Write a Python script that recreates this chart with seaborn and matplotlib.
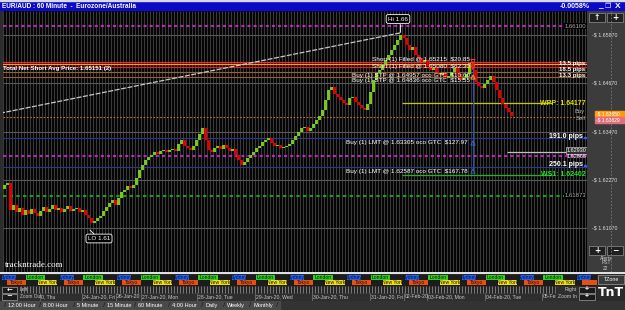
import matplotlib
matplotlib.use("Agg")
import matplotlib.pyplot as plt
import numpy as np
import pandas as pd
import seaborn as sns
from matplotlib.patches import Rectangle

# ---------------- data ----------------
closes = [
    1.6214, 1.6219, 1.6152, 1.6164, 1.6147, 1.6157, 1.6139, 1.6152, 1.6142, 1.6154,
    1.6144, 1.6137, 1.6149, 1.6159, 1.6147, 1.6154, 1.6164, 1.6152, 1.6157, 1.6147,
    1.6154, 1.6162, 1.6149, 1.6154, 1.6157, 1.6147, 1.6152, 1.6139, 1.6132, 1.6120,
    1.6124, 1.6132, 1.6137, 1.6149, 1.6159, 1.6169, 1.6177, 1.6164, 1.6182, 1.6197,
    1.6202, 1.6212, 1.6207, 1.6214, 1.6232, 1.6251, 1.6264, 1.6276, 1.6284, 1.6289,
    1.6296, 1.6291, 1.6299, 1.6301, 1.6296, 1.6301, 1.6304, 1.6299, 1.6316, 1.6326,
    1.6311, 1.6306, 1.6301, 1.6311, 1.6326, 1.6341, 1.6356, 1.6326, 1.6301, 1.6296,
    1.6306, 1.6311, 1.6304, 1.6314, 1.6306, 1.6299, 1.6304, 1.6289, 1.6276, 1.6264,
    1.6271, 1.6281, 1.6289, 1.6296, 1.6306, 1.6311, 1.6321, 1.6326, 1.6331, 1.6319,
    1.6311, 1.6314, 1.6306, 1.6309, 1.6311, 1.6316, 1.6326, 1.6336, 1.6346, 1.6356,
    1.6359, 1.6349, 1.6356, 1.6366, 1.6376, 1.6386, 1.6401, 1.6426, 1.6451, 1.6458,
    1.6441, 1.6433, 1.6426, 1.6418, 1.6413, 1.6431, 1.6433, 1.6421, 1.6413, 1.6406,
    1.6401, 1.6416, 1.6446, 1.6476, 1.6493, 1.6500, 1.6515, 1.6525, 1.6538, 1.6550,
    1.6563, 1.6575, 1.6588, 1.6580, 1.6563, 1.6550, 1.6558, 1.6538, 1.6530, 1.6520,
    1.6525, 1.6510, 1.6500, 1.6505, 1.6496, 1.6488, 1.6493, 1.6481, 1.6486, 1.6496,
    1.6505, 1.6491, 1.6476, 1.6481, 1.6491, 1.6518, 1.6500, 1.6471, 1.6461, 1.6456,
    1.6466, 1.6476, 1.6486, 1.6471, 1.6451, 1.6431, 1.6416, 1.6406, 1.6396, 1.6386,
]
first_open = 1.6205

price_ticks = [1.65870, 1.64670, 1.63470, 1.62270, 1.61070]

trend_idx = [-1.5, 132.0]
trend_price = [1.6393, 1.6593]

magenta_levels = [1.66100, 1.62866]
green_level = 1.61873
short_fill_prices = [1.65215, 1.65080]
short_fill_amounts = ["$20.85", "$62.30"]
net_short_avg = 1.65151
stp_prices = [1.64957, 1.64836]
stp_amounts = ["$10.60", "$15.55"]
lmt_prices = [1.63305, 1.62587]
lmt_amounts = ["$127.97", "$167.78"]
lmt_pips = ["191.0 pips", "250.1 pips"]
stacked_pips = ["13.5 pips", "18.5 pips", "13.3 pips"]
wpp_level = 1.64177
ws1_level = 1.62402
bid_price = 1.63829
ask_price = 1.63850
white_level = 1.62966
pct_change = "-0.0058%"

date_labels = ["0, Thu", "24-Jan-20, Fri", "26-Jan-20", "27-Jan-20, Mon",
               "28-Jan-20, Tue", "29-Jan-20, Wed", "30-Jan-20, Thu", "31-Jan-20, Fri",
               "02-Feb-20", "03-Feb-20, Mon", "04-Feb-20, Tue", "05-Feb"]
session_names = ["Sydney", "Tokyo", "London", "New York"]
session_start_h = [0, 2, 10, 15]
session_len_h = [6, 8, 8, 8]
session_row = [0, 1, 0, 1]
session_colors = ["#2060ff", "#e85010", "#30d020", "#f0e010"]
n_days = 11
tabs = ["12:00 Hour", "8:00 Hour", "5 Minute", "15 Minute", "60 Minute",
        "4:00 Hour", "Daily", "Weekly", "Monthly"]

# ---------------- style ----------------
sns.set_theme(style="dark")
plt.rcParams["font.family"] = ["Liberation Sans", "DejaVu Sans"]
plt.rcParams["axes.edgecolor"] = "none"

W, H = 625, 310
fig = plt.figure(figsize=(6.25, 3.10), dpi=100)
fig.patch.set_facecolor("#2c2c2c")


def px_axes(x0, y0, x1, y1, fc):
    a = fig.add_axes([x0 / W, 1 - y1 / H, (x1 - x0) / W, (y1 - y0) / H])
    a.set_facecolor(fc)
    a.set_xticks([]); a.set_yticks([])
    for s in a.spines.values():
        s.set_visible(False)
    return a


YTOP = 1.661 + 15 / 4020
YBOT = 1.661 - 246 / 4020


def ix(px):  # pixel column -> candle index units (text placement only)
    return (px - 4.5) / 3


def py(ypx):  # pixel row -> price units (text placement only)
    return 1.661 - (ypx - 26) / 4020


# ---------------- title bar ----------------
at = px_axes(0, 0, 625, 11, "#0a0ac8")
at.set_xlim(0, 625); at.set_ylim(11, 0)
at.add_patch(Rectangle((0, 0), 625, 1, color="#d8d8e8"))
at.text(2, 6, "EUR/AUD : 60 Minute  -  Eurozone/Australia", color="white",
        fontsize=4.7, fontweight="bold", va="center")
at.text(590, 6, pct_change, color="white", fontsize=5.0, fontweight="bold",
        va="center", ha="right")
at.text(598, 6.5, "_", color="white", fontsize=6, fontweight="bold", va="center")
at.text(605, 6, "\u2750", color="white", fontsize=5, va="center",
        family=["DejaVu Sans"])
at.text(615, 6, "X", color="white", fontsize=6, fontweight="bold", va="center")

# ---------------- main chart ----------------
ax = px_axes(3, 11, 587, 272, "black")
ax.set_xlim(-0.5, 194.17)
ax.set_ylim(YBOT, YTOP)

# dense vertical grid
ax.vlines(np.arange(-1, 195) + 0.5, YBOT, YTOP, colors="#3a3a3a", lw=0.85, zorder=0)
# horizontal grid at price ticks
ax.hlines(price_ticks, -0.5, 194.17, colors="#585858", lw=0.8, zorder=0.5)

# reference / order levels
for lv in magenta_levels:
    ax.axhline(lv, color="#ff20ff", lw=1.1, ls=(0, (2, 2)), zorder=1)
ax.axhline(green_level, color="#10c010", lw=1.2, ls=(0, (2, 2)), zorder=1)
ax.axhline(short_fill_prices[0], color="#ff2020", lw=0.9, zorder=1)
ax.axhline(net_short_avg, color="#ff9a20", lw=0.9, zorder=1)
ax.axhline(short_fill_prices[1], color="#e02020", lw=0.9, zorder=1)
for lv in stp_prices:
    ax.axhline(lv, color="#9a6030", lw=0.8, zorder=1)
for lv in lmt_prices:
    ax.axhline(lv, color="#2a3a8a", lw=0.8, zorder=1)
ax.axhline(bid_price, color="#c07030", lw=0.8, ls=(0, (1.5, 1.5)), zorder=1)
ax.hlines(wpp_level, ix(402), ix(552), colors="#c8c800", lw=0.9, zorder=1)
ax.hlines(ws1_level, ix(402), ix(552), colors="#20b020", lw=0.9, zorder=1)
ax.hlines(white_level, ix(507), ix(577), colors="#c0c0c0", lw=0.9, zorder=1)

# trend line (seaborn)
trend_df = pd.DataFrame({"idx": trend_idx, "price": trend_price})
sns.lineplot(data=trend_df, x="idx", y="price", ax=ax, color="#c8c8c8", lw=0.9,
             ls=(0, (4, 1.2)), zorder=2)

# candles
opens = [first_open] + closes[:-1]
cdf = pd.DataFrame({"idx": np.arange(len(closes)), "open": opens, "close": closes})
cdf["up"] = cdf["close"] >= cdf["open"]
cdf["bottom"] = cdf[["open", "close"]].min(axis=1)
cdf["height"] = (cdf["close"] - cdf["open"]).abs().clip(lower=0.0003)
ax.bar(cdf["idx"], cdf["height"], bottom=cdf["bottom"], width=0.72,
       color=np.where(cdf["up"], "#78c81c", "#e00000"), lw=0, zorder=3)

# order markers
ax.vlines(ix(473), py(171), py(63), colors="#3050a8", lw=0.8, zorder=2)
mk = pd.DataFrame({"x": [ix(473)] * 2, "y": short_fill_prices})
sns.scatterplot(data=mk, x="x", y="y", ax=ax, marker="v", s=9, color="none",
                edgecolor="#ff3030", linewidth=0.7, zorder=4)
mk2 = pd.DataFrame({"x": [ix(473)], "y": [py(77)]})
sns.scatterplot(data=mk2, x="x", y="y", ax=ax, marker="^", s=9, color="none",
                edgecolor="#ff9a20", linewidth=0.7, zorder=4)
mk3 = pd.DataFrame({"x": [ix(473)] * 2, "y": [py(143), py(171)]})
sns.scatterplot(data=mk3, x="x", y="y", ax=ax, marker="^", s=9, color="none",
                edgecolor="#4060c0", linewidth=0.7, zorder=4)
ax.set_xlabel(""); ax.set_ylabel("")
ax.set_xticks([]); ax.set_yticks([])
ax.set_xlim(-0.5, 194.17)
ax.set_ylim(YBOT, YTOP)

tk = dict(color="white", fontsize=4.6, va="center", zorder=5)
ax.text(ix(3), py(68.5), f"Total Net Short Avg Price: {net_short_avg:.5f} (2)",
        fontweight="bold", ha="left", color="white", fontsize=4.4, va="center", zorder=5)
for p, a, dy in zip(short_fill_prices, short_fill_amounts, [-2.3, -1.0]):
    ax.text(ix(470), p + (-dy) / 4020, f"Short (1) Filled @ {p:.5f}  {a}", ha="right", **tk)
for p, a in zip(stp_prices, stp_amounts):
    ax.text(ix(470), p - 3.5 / 4020, f"Buy (1) STP @ {p:.5f} oco GTC  {a}", ha="right", **tk)
for p, a in zip(lmt_prices, lmt_amounts):
    ax.text(ix(468), p - 4.2 / 4020, f"Buy (1) LMT @ {p:.5f} oco GTC  {a}", ha="right", **tk)

ax.text(ix(586), wpp_level, f"WPP: {wpp_level:.5f}", ha="right", color="#e0e000",
        fontsize=5.0, fontweight="bold", va="center", zorder=5)
ax.text(ix(586), ws1_level, f"WS1: {ws1_level:.5f}", ha="right", color="#20e020",
        fontsize=5.0, fontweight="bold", va="center", zorder=5)
for lbl, ypx in zip(lmt_pips, [136, 164]):
    ax.text(ix(583), py(ypx), lbl, ha="right", color="white", fontsize=5.0,
            fontweight="bold", va="center", zorder=5)
    ax.add_patch(Rectangle((ix(584), py(ypx + 2)), 0.6, 1.5 / 4020, color="#3060ff",
                           zorder=5, clip_on=False))
    ax.text(ix(590), py(ypx + 1), "x", color="#ff2020", fontsize=4.5, ha="center",
            va="center", fontweight="bold", clip_on=False, zorder=6)
for lbl, ypx in zip(stacked_pips, [64, 70, 76]):
    ax.text(ix(585), py(ypx), lbl, ha="right", color="white", fontsize=4.4,
            fontweight="bold", va="center", zorder=5)
for ypx, c in zip([60, 64, 68, 72, 76, 80], ["#ff2020", "#ff2020", "#ffa020",
                                             "#ff2020", "#ffa020", "#ff2020"]):
    ax.text(ix(590), py(ypx), "x", color=c, fontsize=4.5, ha="center", va="center",
            fontweight="bold", clip_on=False, zorder=6)

gray_box = dict(boxstyle="square,pad=0.1", fc="black", ec="none")
ax.text(ix(586), magenta_levels[0], f"{magenta_levels[0]:.5f}", ha="right",
        va="center", color="#b0b0b0", fontsize=4.3, bbox=gray_box, zorder=5)
ax.text(ix(586), green_level, f"{green_level:.5f}", ha="right",
        va="center", color="#b0b0b0", fontsize=4.3, bbox=gray_box, zorder=5)
ax.text(ix(586), py(150.5), "1.62930", ha="right", va="center", color="white",
        fontsize=4.0, zorder=5, bbox=dict(boxstyle="square,pad=0.1", fc="#303030",
                                          ec="#c0c0c0", lw=0.5))
ax.text(ix(586), py(156), f"{magenta_levels[1]:.5f}", ha="right", va="center",
        color="white", fontsize=4.0, zorder=5)
ax.text(ix(585), py(112), "Buy", ha="right", va="center", color="#b0b0b0",
        fontsize=4.2, zorder=5)
ax.text(ix(585), py(118), "Sell", ha="right", va="center", color="#b0b0b0",
        fontsize=4.2, zorder=5)

box = dict(boxstyle="round,pad=0.3", fc="black", ec="white", lw=0.6)
ax.text(ix(398), py(19), "Hi 1.66", color="white", fontsize=4.5, ha="center",
        va="center", bbox=box, zorder=6)
ax.plot([ix(400), ix(400)], [py(23.5), py(32)], color="white", lw=0.6, zorder=6)
ax.text(ix(99), py(238.5), "LO 1.61", color="white", fontsize=4.5, ha="center",
        va="center", bbox=box, zorder=6)
ax.plot([ix(90), ix(94)], [py(230), py(234)], color="white", lw=0.6, zorder=6)

ax.text(ix(5), py(265), "trackntrade.com", color="white", fontsize=6.5,
        family=["Liberation Serif", "DejaVu Serif"], va="center", zorder=6)

# ---------------- right price panel ----------------
rp = px_axes(587, 11, 625, 272, "#3c3c3c")
rp.set_xlim(587, 625)
rp.set_ylim(YBOT, YTOP)
rp.axvline(611, color="#7a7a7a", lw=0.6, ls=(0, (2, 2)))
for t in price_ticks:
    rp.text(592, t, f"-$ {t:.5f}", color="#dcdcdc", fontsize=3.8, va="center")
rp.axhspan(ask_price - 0.5 / 4020, ask_price + 5 / 4020, xmin=8 / 38, color="#ff9a10")
rp.axhspan(bid_price - 5.5 / 4020, ask_price - 0.5 / 4020, xmin=8 / 38, color="#e07080")
rp.text(596, ask_price + 2.3 / 4020, f"-$ {ask_price:.5f}", color="white",
        fontsize=3.6, va="center")
rp.text(596, bid_price - 2.5 / 4020, f"-$ {bid_price:.5f}", color="white",
        fontsize=3.6, va="center")


def frac(ypx):
    return (272 - ypx) / 261


for x0, sym, ytop in [(589, "\u2191", 13), (607, "+", 13), (589, "+", 246), (607, "\u2212", 246)]:
    rp.add_patch(Rectangle((x0, frac(ytop + 9)), 16, 9 / 261,
                           transform=rp.get_xaxis_transform(), fc="#202020",
                           ec="#909090", lw=0.5))
    rp.text(x0 + 8, frac(ytop + 4.5), sym, transform=rp.get_xaxis_transform(),
            color="white", fontsize=5.5, ha="center", va="center", fontweight="bold",
            family=["DejaVu Sans"])
for lbl, ypx in zip(["Alerts", "PST", "22"], [258, 263, 268.5]):
    rp.text(606, frac(ypx), lbl, transform=rp.get_xaxis_transform(), color="#d0d0d0",
            fontsize=3.5, ha="center", va="center")

# separator line
sep = px_axes(0, 271.5, 625, 273.5, "#e0e0e0")

# ---------------- sessions strip ----------------
hpx = 57.5 / 24
asx = px_axes(0, 274.5, 597, 285.5, "#1c1c1c")
asx.set_xlim(-2 / hpx, 595 / hpx)
asx.set_ylim(2, 0)
srows = []
for d in range(n_days):
    for nm, st, ln, rw, col in zip(session_names, session_start_h, session_len_h,
                                   session_row, session_colors):
        srows.append((nm, 24 * d + st, ln, rw, col))
for nm, st, ln, rw, col in srows:
    asx.add_patch(Rectangle((st, rw + 0.05), ln, 0.9, color=col, lw=0))
    cx = st + ln / 2
    if cx + 3 < 595 / hpx:
        asx.text(cx, rw + 0.5, nm, fontsize=3.6, color="#101010",
                 ha="center", va="center", clip_on=True)

# ---------------- date strip ----------------
ad = px_axes(0, 285.5, 597, 300.5, "#262626")
ad.set_xlim(0, 597); ad.set_ylim(15, 0)
ad.vlines(np.arange(21, 558, 3), 0.5, 7, colors="#9a9a9a", lw=0.5)
ad.add_patch(Rectangle((18, 7.5), 539, 7.5, color="#2e2e2e"))
date_px = [41, 83, 117, 142, 198, 256, 313, 371, 405, 428, 486, 543]
for lbl, x in zip(date_labels, date_px):
    ad.vlines(x - 1.5, 7.5, 15, colors="#707070", lw=0.6)
    ad.text(x, 11.3, lbl, color="#c8c8c8", fontsize=3.7, va="center")
for y0, sym in [(1, "\u2190"), (8, "\u2212")]:
    ad.add_patch(Rectangle((2, y0), 15, 6, fc="#1a1a1a", ec="#a0a0a0", lw=0.5))
    ad.text(9.5, y0 + 3, sym, color="white", fontsize=5, ha="center", va="center",
            fontweight="bold", family=["DejaVu Sans"])
ad.text(20, 3.8, "Left", color="#c8c8c8", fontsize=3.7, va="center")
ad.add_patch(Rectangle((19, 8), 20, 6.5, color="#2e2e2e", zorder=3))
ad.text(19.5, 11.3, "Zoom Out", color="#c8c8c8", fontsize=3.4, va="center", zorder=4)
ad.add_patch(Rectangle((556, 0), 23, 15, color="#2e2e2e", zorder=3))
ad.text(577, 3.8, "Right", color="#c8c8c8", fontsize=3.7, va="center", ha="right", zorder=4)
ad.text(577, 11.3, "Zoom In", color="#c8c8c8", fontsize=3.7, va="center", ha="right", zorder=4)
for y0 in [1, 8]:
    ad.add_patch(Rectangle((579, y0), 16, 6, fc="#1a1a1a", ec="#a0a0a0", lw=0.5, zorder=4))
    ad.text(587, y0 + 3, "+", color="white", fontsize=5, ha="center", va="center",
            fontweight="bold", zorder=5)

# TZone / logo
lg = px_axes(597, 273.5, 625, 300.5, "#2a2a2a")
lg.set_xlim(597, 625); lg.set_ylim(27, 0)
lg.add_patch(Rectangle((598, 1.5), 26, 8.5, fc="#3a3a3a", ec="#a0a0a0", lw=0.5))
lg.text(611, 5.8, "TZone", color="white", fontsize=3.8, ha="center", va="center")
lg.text(611, 19.5, "TnT", color="white", fontsize=9, ha="center", va="center",
        fontweight="bold", family=["DejaVu Sans"])

# ---------------- tabs ----------------
tb = px_axes(0, 300.5, 625, 310, "#333333")
tb.set_xlim(0, 625); tb.set_ylim(9.5, 0)
tab_px = [8, 43, 77, 107, 138, 172, 205, 227, 253]
tb.add_patch(Rectangle((0, 0), 280, 9.5, color="#4a4a4a"))
for lbl, x in zip(tabs, tab_px):
    tb.text(x, 5, lbl, color="white", fontsize=4.0, va="center")
    tb.text(x - 4, 5, "/", color="#202020", fontsize=6, va="center")
tb.text(276, 5, "/", color="#202020", fontsize=6, va="center")

fig.savefig("out.png", dpi=100, facecolor=fig.get_facecolor())
